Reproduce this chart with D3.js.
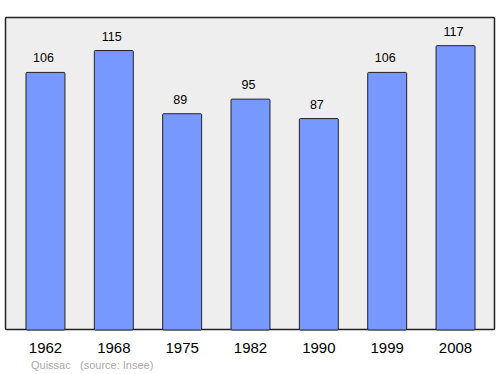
<!DOCTYPE html>
<html>
<head>
<meta charset="utf-8">
<script src="https://cdn.jsdelivr.net/npm/d3@7"></script>
<style>
  html, body { margin: 0; padding: 0; background: #fff; }
  svg { display: block; font-family: "Liberation Sans", Arial, sans-serif; }
</style>
</head>
<body>
<svg id="chart" width="500" height="374"></svg>
<script>
const years = ["1962", "1968", "1975", "1982", "1990", "1999", "2008"];
const population = [106, 115, 89, 95, 87, 106, 117];
const commune = "Quissac";
const sourceText = "(source: Insee)";

const svg = d3.select("#chart");
const frame = { left: 5.5, top: 17.5, right: 494.5, bottom: 329.5 };

svg.append("rect")
  .attr("x", frame.left).attr("y", frame.top)
  .attr("width", frame.right - frame.left)
  .attr("height", frame.bottom - frame.top)
  .attr("fill", "#eeeeee")
  .attr("stroke", "#222")
  .attr("stroke-width", 1.5)
  .attr("rx", 1);

const x = d3.scaleBand()
  .domain(years)
  .range([11.3, 489.7])
  .paddingInner(0.43)
  .paddingOuter(0.215);

const y = d3.scaleLinear()
  .domain([0, 128.8])
  .range([330, 17]);

svg.selectAll("rect.bar")
  .data(population)
  .join("rect")
  .attr("class", "bar")
  .attr("x", (d, i) => x(years[i]))
  .attr("y", d => y(d))
  .attr("width", x.bandwidth())
  .attr("height", d => y(0) - y(d))
  .attr("fill", "#7799ff")
  .attr("stroke", "#222")
  .attr("stroke-width", 1)
  .attr("rx", 1);

svg.selectAll("text.val")
  .data(population)
  .join("text")
  .attr("class", "val")
  .attr("x", (d, i) => x(years[i]) + x.bandwidth() / 2 - 2)
  .attr("y", d => y(d) - 10)
  .attr("text-anchor", "middle")
  .attr("font-size", 12.5)
  .attr("fill", "#000")
  .text(d => d);

const axis = d3.axisBottom(x).tickSize(0).tickPadding(0);
const g = svg.append("g").attr("transform", "translate(0,330)").call(axis);
g.select(".domain").remove();
g.selectAll("text")
  .attr("y", 23).attr("dy", null)
  .attr("font-size", 15).attr("fill", "#000")
  .attr("font-family", "Liberation Sans, Arial, sans-serif");

svg.append("text")
  .attr("x", 31).attr("y", 369.3)
  .attr("font-size", 11).attr("fill", "#aaaaaa")
  .text(commune);
svg.append("text")
  .attr("x", 80).attr("y", 369.3)
  .attr("font-size", 11).attr("fill", "#aaaaaa")
  .text(sourceText);
</script>
</body>
</html>
